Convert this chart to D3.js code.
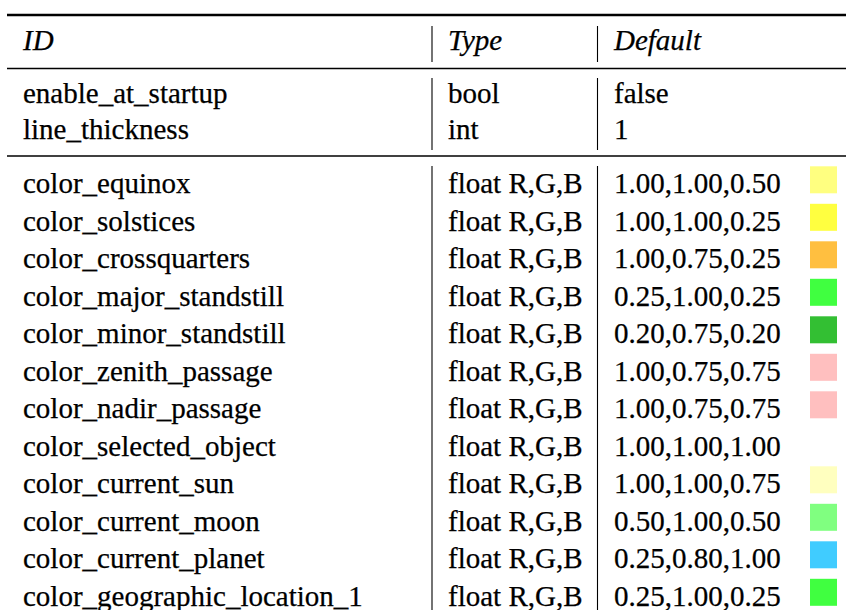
<!DOCTYPE html>
<html>
<head>
<meta charset="utf-8">
<script src="https://cdn.jsdelivr.net/npm/d3@7"></script>
<style>
  html, body { margin: 0; padding: 0; background: #fff; }
  svg { display: block; }
  text { font-family: "Liberation Serif", "Times New Roman", serif; font-size: 29px; fill: #000; stroke: #000; stroke-width: 0.25px; }
</style>
</head>
<body>
<svg id="chart" width="846" height="610"></svg>
<script>
const headers = ["ID", "Type", "Default"];

const generalIds = ["enable_at_startup", "line_thickness"];
const generalTypes = ["bool", "int"];
const generalDefaults = ["false", "1"];

const colorIds = [
  "color_equinox", "color_solstices", "color_crossquarters", "color_major_standstill",
  "color_minor_standstill", "color_zenith_passage", "color_nadir_passage",
  "color_selected_object", "color_current_sun", "color_current_moon",
  "color_current_planet", "color_geographic_location_1"
];
const colorType = "float R,G,B";
const colorDefaults = [
  [1.00, 1.00, 0.50], [1.00, 1.00, 0.25], [1.00, 0.75, 0.25], [0.25, 1.00, 0.25],
  [0.20, 0.75, 0.20], [1.00, 0.75, 0.75], [1.00, 0.75, 0.75], [1.00, 1.00, 1.00],
  [1.00, 1.00, 0.75], [0.50, 1.00, 0.50], [0.25, 0.80, 1.00], [0.25, 1.00, 0.25]
];

const svg = d3.select("#chart");
const W = 846, H = 610;

// column positions
const colX = d3.scaleOrdinal().domain(headers).range([23, 448, 614]);
const sepX = [432, 597.5];
const swatchX = 810, swatchSize = 27;

// row scales (baselines)
const headerY = 50;
const yGeneral = d3.scaleLinear().domain([0, 1]).range([102.8, 139.4]);
const yColor = d3.scaleLinear().domain([0, 1]).range([193.3, 230.8]);

// horizontal rules
const rules = [
  { y: 15, w: 2.4 },
  { y: 68.5, w: 1.3 },
  { y: 156, w: 1.3 }
];
svg.selectAll("line.rule").data(rules).join("line")
  .attr("class", "rule")
  .attr("x1", 7).attr("x2", W)
  .attr("y1", d => d.y).attr("y2", d => d.y)
  .attr("stroke", "#000").attr("stroke-width", d => d.w);

// vertical separators per block
const blocks = [[26, 62], [78, 150], [166, H]];
blocks.forEach(([y1, y2]) => {
  sepX.forEach(x => {
    svg.append("line")
      .attr("x1", x).attr("x2", x).attr("y1", y1).attr("y2", y2)
      .attr("stroke", "#000").attr("stroke-width", 1.1);
  });
});

// header
svg.selectAll("text.hdr").data(headers).join("text")
  .attr("class", "hdr")
  .attr("x", d => colX(d)).attr("y", headerY)
  .style("font-style", "italic")
  .text(d => d);

// general rows
const general = generalIds.map((id, i) => ({ id, type: generalTypes[i], def: generalDefaults[i], i }));
const gRows = svg.selectAll("g.grow").data(general).join("g").attr("class", "grow");
gRows.append("text").attr("x", colX("ID")).attr("y", d => yGeneral(d.i)).text(d => d.id);
gRows.append("text").attr("x", colX("Type")).attr("y", d => yGeneral(d.i)).text(d => d.type);
gRows.append("text").attr("x", colX("Default")).attr("y", d => yGeneral(d.i)).text(d => d.def);

// color rows
const colors = colorIds.map((id, i) => ({ id, rgb: colorDefaults[i], i }));
const cRows = svg.selectAll("g.crow").data(colors).join("g").attr("class", "crow");
cRows.append("text").attr("x", colX("ID")).attr("y", d => yColor(d.i)).text(d => d.id);
cRows.append("text").attr("x", colX("Type")).attr("y", d => yColor(d.i)).text(colorType);
cRows.append("text").attr("x", colX("Default")).attr("y", d => yColor(d.i))
  .text(d => d.rgb.map(v => v.toFixed(2)).join(","));
cRows.append("rect")
  .attr("x", swatchX)
  .attr("y", d => yColor(d.i) - swatchSize)
  .attr("width", swatchSize).attr("height", swatchSize)
  .attr("fill", d => d3.rgb(d.rgb[0] * 255, d.rgb[1] * 255, d.rgb[2] * 255).toString());
</script>
</body>
</html>
